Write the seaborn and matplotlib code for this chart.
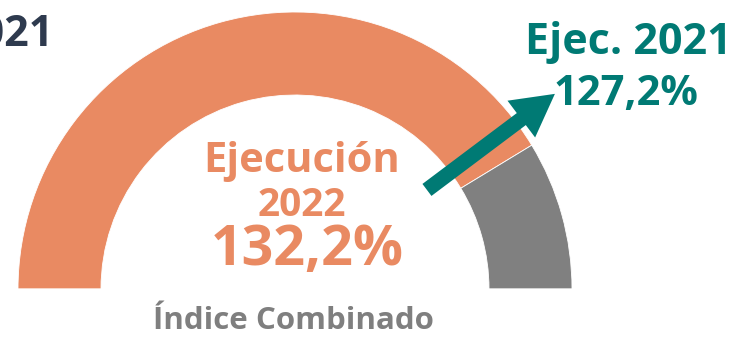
import numpy as np
import matplotlib
matplotlib.use("Agg")
import matplotlib.pyplot as plt
import seaborn as sns

# Gauge values (percent of budget executed)
gauge_max = 160.0
exec_2022 = 132.2
exec_2021 = 127.2
label_2022 = ["Ejecución", "2022"]
label_2021 = "Ejec. 2021"
title_text = "Índice Combinado"
left_text = "2021"

sns.set_theme(style="white")
plt.rcParams["font.family"] = ["Open Sans", "DejaVu Sans"]

orange = "#E98A62"
gray = "#808080"
teal = "#007A74"
navy = "#2E3A4E"
label_gray = "#7F7F7F"

W, H = 742, 338
fig = plt.figure(figsize=(W / 100, H / 100), dpi=100)
ax = fig.add_axes([0, 0, 1, 1])

cx, cy = 295, 338 - 289
r_out, ring_w = 277, 83

# Half donut: the lower half of the pie is left transparent
values = [exec_2022, gauge_max - exec_2022, gauge_max]
ax.pie(values, center=(cx, cy), radius=r_out, startangle=180, counterclock=False,
       colors=[orange, gray, (1, 1, 1, 0)],
       wedgeprops=dict(width=ring_w, edgecolor="white", linewidth=0.6),
       frame=True)

# Arrow marking last year's execution on the same scale
theta = np.pi * (1 - exec_2021 / gauge_max)
r0, r1 = 165, 325
x0, y0 = cx + r0 * np.cos(theta), cy + r0 * np.sin(theta)
dx, dy = (r1 - r0) * np.cos(theta), (r1 - r0) * np.sin(theta)
ax.arrow(x0, y0, dx, dy, width=15, head_width=46, head_length=42,
         length_includes_head=True, color=teal, linewidth=0, zorder=5)

fmt = lambda v: f"{v:.1f}".replace(".", ",") + "%"

ax.text(302, 338 - 161, label_2022[0], ha="center", va="center", color=orange,
        fontsize=30, fontweight="bold")
ax.text(302, 338 - 205, label_2022[1], ha="center", va="center", color=orange,
        fontsize=28, fontweight="bold")
ax.text(307, 338 - 250, fmt(exec_2022), ha="center", va="center", color=orange,
        fontsize=40, fontweight="bold")
ax.text(293, 338 - 321, title_text, ha="center", va="center", color=label_gray,
        fontsize=22.5, fontweight="bold")
ax.text(628, 338 - 42, label_2021, ha="center", va="center", color=teal,
        fontsize=31, fontweight="bold")
ax.text(626, 338 - 94, fmt(exec_2021), ha="center", va="center", color=teal,
        fontsize=30, fontweight="bold")
# Heading that continues off the left edge of the figure
ax.text(54, 338 - 34, left_text, ha="right", va="center", color=navy,
        fontsize=31, fontweight="bold")

ax.set_xlim(0, W)
ax.set_ylim(0, H)
ax.set_aspect("equal")
ax.axis("off")

fig.savefig("out.png", dpi=100, facecolor="white")
